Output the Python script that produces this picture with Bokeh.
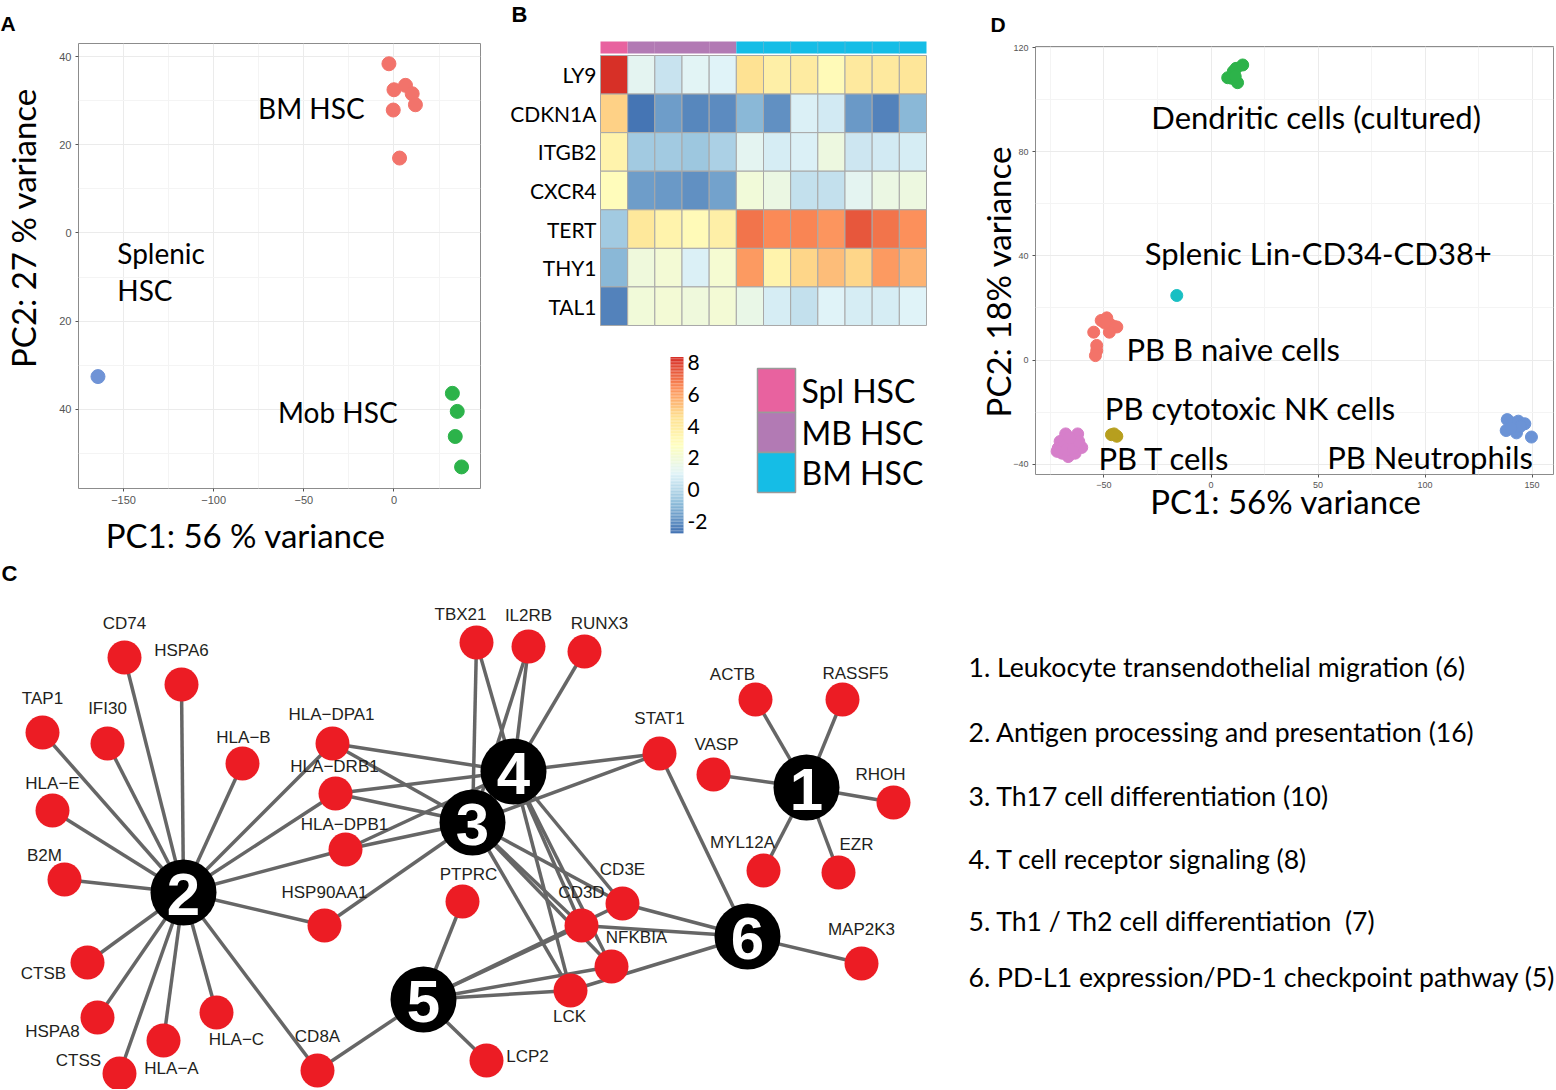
import numpy as np
from bokeh.plotting import figure
from bokeh.models import Range1d, FixedTicker, ColumnDataSource
from bokeh.layouts import column, row
from bokeh.embed import file_html
from bokeh.resources import INLINE
from bokeh.core.properties import value
from bokeh.transform import linear_cmap

# ---------------- Panel A data (PCA of HSC samples) ----------------
a_bm_x = [-2.8, 0.0, 6.4, 10.1, 11.9, -0.4, 3.1]
a_bm_y = [38.4, 32.5, 33.5, 31.6, 29.1, 27.9, 17.0]
a_spl_x = [-164.2]
a_spl_y = [-32.6]
a_mob_x = [32.4, 35.1, 34.0, 37.5]
a_mob_y = [-36.4, -40.5, -46.2, -53.1]
a_xticks = [-150, -100, -50, 0]
a_xtick_labels = ["\u2212150", "\u2212100", "\u221250", "0"]
a_yticks = [-40, -20, 0, 20, 40]
a_ytick_labels = ["40", "20", "0", "20", "40"]   # as printed (clipped) in the figure

# ---------------- Panel B data (heatmap) ----------------
b_genes = ["LY9", "CDKN1A", "ITGB2", "CXCR4", "TERT", "THY1", "TAL1"]
b_groups = ["Spl HSC"] + ["MB HSC"] * 4 + ["BM HSC"] * 7
b_LY9 = [8.2, 1.2, 0.4, 1.1, 1.0, 4.5, 3.7, 3.9, 3.1, 4.1, 4.1, 4.3]
b_CDKN1A = [4.9, -2.7, -1.7, -2.2, -2.1, -1.0, -2.0, 0.9, 0.6, -1.8, -2.3, -1.0]
b_ITGB2 = [3.5, -0.4, -0.45, -0.55, -0.2, 1.2, 0.8, 0.85, 1.7, 0.55, 0.7, 0.8]
b_CXCR4 = [3.0, -1.7, -1.75, -1.95, -1.5, 2.0, 1.6, 0.35, 0.35, 1.2, 1.6, 1.7]
b_TERT = [-0.5, 4.2, 3.5, 3.1, 3.7, 6.9, 6.5, 6.55, 6.3, 7.5, 6.95, 6.4]
b_THY1 = [-1.0, 1.9, 2.1, 0.85, 2.2, 6.1, 3.5, 4.8, 5.4, 4.8, 6.1, 5.6]
b_TAL1 = [-2.35, 2.0, 2.1, 1.9, 2.1, 1.5, 0.8, 0.35, 1.0, 0.8, 0.75, 1.0]
b_low, b_high = -2.7, 8.3
b_cbar_ticks = [8, 6, 4, 2, 0, -2]
b_legend = ["Spl HSC", "MB HSC", "BM HSC"]
b_group_colors = {"Spl HSC": "#E8629F", "MB HSC": "#B27AB4", "BM HSC": "#15BDE6"}

# ---------------- Panel D data (PCA of immune cells) ----------------
d_dc_x = [7.8, 10.4, 11.7, 14.8, 12.4, 9.6, 11.3]
d_dc_y = [108.5, 110.9, 112.1, 113.4, 106.6, 108.3, 109.0]
d_spl_x = [-16.0]
d_spl_y = [24.8]
d_b_x = [-54.8, -51.3, -48.7, -47.5, -45.3, -44.0, -47.5, -53.4, -53.4, -54.0, -49.6]
d_b_y = [10.7, 15.2, 16.2, 14.0, 12.9, 12.7, 10.7, 5.6, 3.6, 1.7, 14.2]
d_nk_x = [-46.5, -44.0, -45.3]
d_nk_y = [-28.7, -29.3, -28.4]
d_t_x = [-67.9, -62.3, -70.5, -71.4, -69.6, -66.7, -63.5, -60.4, -65.3, -68.8, -71.9, -67.4, -64.4, -61.8, -66.1]
d_t_y = [-28.4, -28.4, -31.3, -33.9, -35.8, -37.1, -35.8, -33.6, -32.6, -33.2, -35.1, -34.5, -33.9, -31.3, -30.0]
d_neu_x = [138.4, 141.0, 143.6, 146.6, 137.9, 142.7, 149.7, 144.5, 140.2]
d_neu_y = [-22.9, -24.2, -23.5, -24.5, -27.1, -28.0, -29.6, -25.5, -26.1]
d_xticks = [-50, 0, 50, 100, 150]
d_xtick_labels = ["\u221250", "0", "50", "100", "150"]
d_yticks = [-40, 0, 40, 80, 120]
d_ytick_labels = ["\u221240", "0", "40", "80", "120"]

# ---------------- Panel C data (gene / pathway network) ----------------
hub_id = ["1", "2", "3", "4", "5", "6"]
hub_x = [806, 183, 472, 513, 423, 747]
hub_y = [787, 892, 822, 771, 999, 936]
genes = ["CD74", "HSPA6", "TAP1", "IFI30", "HLA\u2212B", "HLA\u2212E", "B2M", "CTSB", "HSPA8", "CTSS",
         "HLA\u2212A", "HLA\u2212C", "CD8A", "HLA\u2212DPA1", "HLA\u2212DRB1", "HLA\u2212DPB1", "HSP90AA1",
         "TBX21", "IL2RB", "RUNX3", "STAT1", "VASP", "ACTB", "RASSF5", "RHOH", "MYL12A", "EZR",
         "MAP2K3", "PTPRC", "CD3E", "CD3D", "NFKBIA", "LCK", "LCP2"]
gene_x = [124, 181, 42, 107, 242, 52, 64, 87, 97, 119, 163, 216, 317, 332, 335, 345, 324,
          476, 528, 584, 659, 713, 755, 842, 893, 763, 838, 861, 462, 622, 581, 611, 570, 486]
gene_y = [657, 684, 732, 743, 763, 810, 879, 962, 1017, 1073, 1040, 1012, 1070, 743, 793, 849, 925,
          642, 646, 651, 753, 774, 699, 699, 802, 870, 872, 963, 901, 903, 925, 966, 990, 1060]
label_x = [124, 181, 42, 107, 243, 52, 44, 43, 52, 78, 171, 236, 317, 331, 334, 344, 324,
           460, 528, 599, 659, 716, 732, 855, 880, 742, 856, 861, 468, 622, 581, 636, 569, 527]
label_y = [623, 650, 698, 708, 737, 783, 855, 973, 1031, 1060, 1068, 1039, 1036, 714, 766, 824, 892,
           614, 615, 623, 718, 744, 674, 673, 774, 842, 844, 929, 874, 869, 892, 937, 1016, 1056]
edges = (
    [("1", g) for g in ["ACTB", "RASSF5", "VASP", "RHOH", "MYL12A", "EZR"]]
    + [("2", g) for g in ["CD74", "HSPA6", "TAP1", "IFI30", "HLA\u2212B", "HLA\u2212E", "B2M", "CTSB", "HSPA8",
                          "CTSS", "HLA\u2212A", "HLA\u2212C", "CD8A", "HLA\u2212DPA1", "HLA\u2212DRB1",
                          "HLA\u2212DPB1", "HSP90AA1"]]
    + [("3", g) for g in ["HLA\u2212DPA1", "HLA\u2212DRB1", "HLA\u2212DPB1", "HSP90AA1", "TBX21", "IL2RB",
                          "STAT1", "CD3D", "CD3E", "NFKBIA", "LCK"]]
    + [("4", g) for g in ["HLA\u2212DPA1", "HLA\u2212DRB1", "HLA\u2212DPB1", "TBX21", "IL2RB", "RUNX3",
                          "STAT1", "CD3D", "CD3E", "NFKBIA", "LCK"]]
    + [("5", g) for g in ["PTPRC", "CD3D", "CD3E", "NFKBIA", "LCK", "LCP2", "CD8A"]]
    + [("6", g) for g in ["STAT1", "CD3E", "CD3D", "LCK", "MAP2K3"]]
)
pathways = ["1. Leukocyte transendothelial migration (6)",
            "2. Antigen processing and presentation (16)",
            "3. Th17 cell differentiation (10)",
            "4. T cell receptor signaling (8)",
            "5. Th1 / Th2 cell differentiation\u00a0 (7)",
            "6. PD-L1 expression/PD-1 checkpoint pathway (5)"]

# ---------------- helpers ----------------
CAL = value("Lato")
ARIAL = "Liberation Sans"
NB = "\u00a0"


def new_fig(w, h, xr, yr, **kw):
    p = figure(width=w, height=h, x_range=xr, y_range=yr, output_backend="svg",
               toolbar_location=None, **kw)
    p.background_fill_color = "white"
    p.border_fill_color = "white"
    try:
        p.frame_align = False
    except Exception:
        pass
    return p


def panel_letter(p, letter, offset, standoff):
    p.title.text = letter
    p.title.align = "left"
    p.title.offset = offset
    p.title.text_font = ARIAL
    p.title.text_font_style = "bold"
    p.title.text_font_size = "21px"
    p.title.text_color = "black"
    try:
        p.title.standoff = standoff
    except Exception:
        pass


def style_pca(p, xt, xl, yt, yl, tick_px, xlab, ylab, xstand, ystand):
    xstep = xt[1] - xt[0]
    ystep = yt[1] - yt[0]
    xminor = [t + xstep / 2 for t in [xt[0] - xstep] + xt]
    yminor = [t + ystep / 2 for t in [yt[0] - ystep] + yt]
    p.xaxis.ticker = FixedTicker(ticks=xt, minor_ticks=xminor)
    p.yaxis.ticker = FixedTicker(ticks=yt, minor_ticks=yminor)
    p.xgrid.ticker = FixedTicker(ticks=xt, minor_ticks=xminor)
    p.ygrid.ticker = FixedTicker(ticks=yt, minor_ticks=yminor)
    p.xaxis.major_label_overrides = dict(zip(xt, xl))
    p.yaxis.major_label_overrides = dict(zip(yt, yl))
    p.grid.grid_line_color = "#EBEBEB"
    p.grid.grid_line_width = 1
    p.grid.minor_grid_line_color = "#F4F4F4"
    p.outline_line_color = "#8C8C8C"
    p.outline_line_width = 1
    p.axis.axis_line_color = None
    p.axis.major_tick_line_color = "#555555"
    p.axis.major_tick_out = 3
    p.axis.major_tick_in = 0
    p.axis.minor_tick_line_color = None
    p.axis.major_label_text_font = ARIAL
    p.axis.major_label_text_font_size = tick_px
    p.axis.major_label_text_color = "#555555"
    p.axis.major_label_standoff = 3
    p.xaxis.axis_label = xlab
    p.yaxis.axis_label = ylab
    p.axis.axis_label_text_font = "Lato"
    p.axis.axis_label_text_font_style = "normal"
    p.axis.axis_label_text_font_size = "33px"
    p.axis.axis_label_text_color = "black"
    p.xaxis.axis_label_standoff = xstand
    p.yaxis.axis_label_standoff = ystand


# ================= Panel A =================
pA = new_fig(490, 560, Range1d(-175, 48), Range1d(-58, 43), title="A",
             min_border_left=78, min_border_right=10, min_border_top=42, min_border_bottom=72)
panel_letter(pA, "A", -78, 18)
style_pca(pA, a_xticks, a_xtick_labels, a_yticks, a_ytick_labels, "11px",
          "PC1: 56 % variance" + NB * 8, NB * 9 + "PC2: 27 % variance", 8, 13)
pA.scatter(a_bm_x, a_bm_y, size=14, color="#F2736B")
pA.scatter(a_spl_x, a_spl_y, size=14, color="#6F93D6")
pA.scatter(a_mob_x, a_mob_y, size=14, color="#2CB34A")
pA.text(x=[-75.4, -153.5, -153.5, -64.3], y=[28.3, -4.5, -13.0, -40.6],
        text=["BM HSC", "Splenic", "HSC", "Mob HSC"], text_font=CAL, text_font_size="28px",
        text_baseline="middle", text_align="left", text_color="black")


# ================= Panel B =================
def bx(ref):  # reference pixel -> heatmap column units
    return (ref - 600) / 27.167


def by(ref):  # reference pixel -> heatmap row units
    return (ref - 55) / 38.571


pB = new_fig(470, 560, Range1d(bx(490), bx(960)), Range1d(by(560), by(0)),
             x_axis_location=None, y_axis_location=None, min_border=0)
pB.outline_line_color = None
pB.grid.visible = False

rdylbu = ["#4575B4", "#91BFDB", "#E0F3F8", "#FFFFBF", "#FEE090", "#FC8D59", "#D73027"]


def ramp(cols, n):
    rgb = np.array([[int(c[i:i + 2], 16) for i in (1, 3, 5)] for c in cols], float)
    out = []
    for t in np.linspace(0, len(cols) - 1, n):
        i = min(int(t), len(cols) - 2)
        f = t - i
        c = rgb[i] * (1 - f) + rgb[i + 1] * f
        out.append("#%02x%02x%02x" % tuple(int(round(v)) for v in c))
    return out


palette = ramp(rdylbu, 100)
rows = [b_LY9, b_CDKN1A, b_ITGB2, b_CXCR4, b_TERT, b_THY1, b_TAL1]
hx, hy, hv = [], [], []
for r, vals in enumerate(rows):
    for c, v in enumerate(vals):
        hx.append(c + 0.5)
        hy.append(r + 0.5)
        hv.append(v)
src = ColumnDataSource(dict(x=hx, y=hy, v=hv))
pB.rect("x", "y", width=1, height=1, source=src,
        fill_color=linear_cmap("v", palette, b_low, b_high),
        line_color="#A8A8A8", line_width=1)
# column annotation bar
ann_x = [i + 0.5 for i in range(len(b_groups))]
pB.rect(ann_x, [(by(41) + by(53)) / 2] * len(b_groups), width=1, height=by(53) - by(41),
        fill_color=[b_group_colors[g] for g in b_groups], line_color=None)
pB.segment(x0=[i for i in range(6, 12)], y0=[by(41)] * 6, x1=[i for i in range(6, 12)],
           y1=[by(53)] * 6, line_color="#4DB8D8", line_width=1)
# row labels
pB.text(x=[bx(596)] * len(b_genes), y=[i + 0.5 for i in range(len(b_genes))], text=b_genes,
        text_font=CAL, text_font_size="21px", text_align="right", text_baseline="middle")
# colour key
key_vals = list(np.linspace(b_low, b_high, 120))
step = (b_high - b_low) / 119


def cy(v):
    return by(362 + (8 - v) * 15.9)


key_src = ColumnDataSource(dict(v=key_vals,
                                top=[cy(v + step / 2) for v in key_vals],
                                bottom=[cy(v - step / 2) for v in key_vals]))
pB.quad(left=bx(670), right=bx(683), top="top", bottom="bottom",
        fill_color=linear_cmap("v", palette, b_low, b_high),
        line_color=None, source=key_src)
pB.text(x=[bx(687)] * len(b_cbar_ticks), y=[cy(t) for t in b_cbar_ticks],
        text=[str(t) if t >= 0 else "-" + str(-t) for t in b_cbar_ticks],
        text_font=CAL, text_font_size="21px", text_align="left", text_baseline="middle")
# group legend
leg_top = [368, 412, 452]
leg_bot = [412, 452, 492]
pB.quad(left=bx(757), right=bx(795), top=[by(t) for t in leg_top], bottom=[by(b) for b in leg_bot],
        fill_color=[b_group_colors[g] for g in b_legend], line_color="#9A9A9A", line_width=1.5)
pB.text(x=[bx(801)] * 3, y=[by((t + b) / 2) for t, b in zip(leg_top, leg_bot)], text=b_legend,
        text_font=CAL, text_font_size="32px", text_align="left", text_baseline="middle")
pB.text(x=[bx(511)], y=[by(14)], text=["B"], text_font=value(ARIAL), text_font_style="bold",
        text_font_size="22px", text_align="left", text_baseline="middle")

# ================= Panel D =================
pD = new_fig(595, 560, Range1d(-82, 160), Range1d(-44, 120.5), title="D",
             min_border_left=75, min_border_right=2, min_border_top=45, min_border_bottom=86)
panel_letter(pD, "D", -45, 21)
style_pca(pD, d_xticks, d_xtick_labels, d_yticks, d_ytick_labels, "9px",
          "PC1: 56% variance" + NB * 2, "PC2: 18% variance" + NB * 5, -10, -8)
pD.scatter(d_dc_x, d_dc_y, size=12, color="#2DB34A")
pD.scatter(d_spl_x, d_spl_y, size=12, color="#18BFC3")
pD.scatter(d_b_x, d_b_y, size=12, color="#F37369")
pD.scatter(d_nk_x, d_nk_y, size=12, color="#B79F1E")
pD.scatter(d_t_x, d_t_y, size=12, color="#D67FCA")
pD.scatter(d_neu_x, d_neu_y, size=12, color="#6B93D6")
pD.text(x=[-27.9, -31.0, -39.5, -49.6, -52.6, 54.3],
        y=[93.4, 41.1, 4.3, -18.3, -37.7, -37.1],
        text=["Dendritic cells (cultured)", "Splenic Lin-CD34-CD38+", "PB B naive cells",
              "PB cytotoxic NK cells", "PB T cells", "PB Neutrophils"],
        text_font=CAL, text_font_size="31px", text_align="left", text_baseline="middle")

# ================= Panel C =================
pC = new_fig(1556, 529, Range1d(0, 1556), Range1d(1089, 560),
             x_axis_location=None, y_axis_location=None, min_border=0)
pC.outline_line_color = None
pC.grid.visible = False
hub_pos = {h: (x, y) for h, x, y in zip(hub_id, hub_x, hub_y)}
gene_pos = {g: (x, y) for g, x, y in zip(genes, gene_x, gene_y)}
pC.segment(x0=[hub_pos[h][0] for h, g in edges], y0=[hub_pos[h][1] for h, g in edges],
           x1=[gene_pos[g][0] for h, g in edges], y1=[gene_pos[g][1] for h, g in edges],
           line_color="#666666", line_width=3.5)
pC.scatter(gene_x, gene_y, size=34, fill_color="#EC1C24", line_color=None)
pC.scatter(hub_x, hub_y, size=66, fill_color="black", line_color=None)
pC.text(x=hub_x, y=[y + 2 for y in hub_y], text=hub_id, text_font=value(ARIAL), text_font_style="bold",
        text_font_size="60px", text_color="white", text_align="center", text_baseline="middle")
pC.text(x=label_x, y=label_y, text=genes, text_font=value(ARIAL), text_font_size="17px",
        text_color="#231F20", text_align="center", text_baseline="middle")
pC.text(x=[968] * len(pathways), y=[666, 731, 795, 858, 920, 976], text=pathways,
        text_font=CAL, text_font_size="26.6px", text_align="left", text_baseline="middle")
pC.text(x=[1], y=[573], text=["C"], text_font=value(ARIAL), text_font_style="bold",
        text_font_size="22px", text_align="left", text_baseline="middle")

layout = column(row(pA, pB, pD), pC)
open("out.html", "w").write(file_html(layout, INLINE))
